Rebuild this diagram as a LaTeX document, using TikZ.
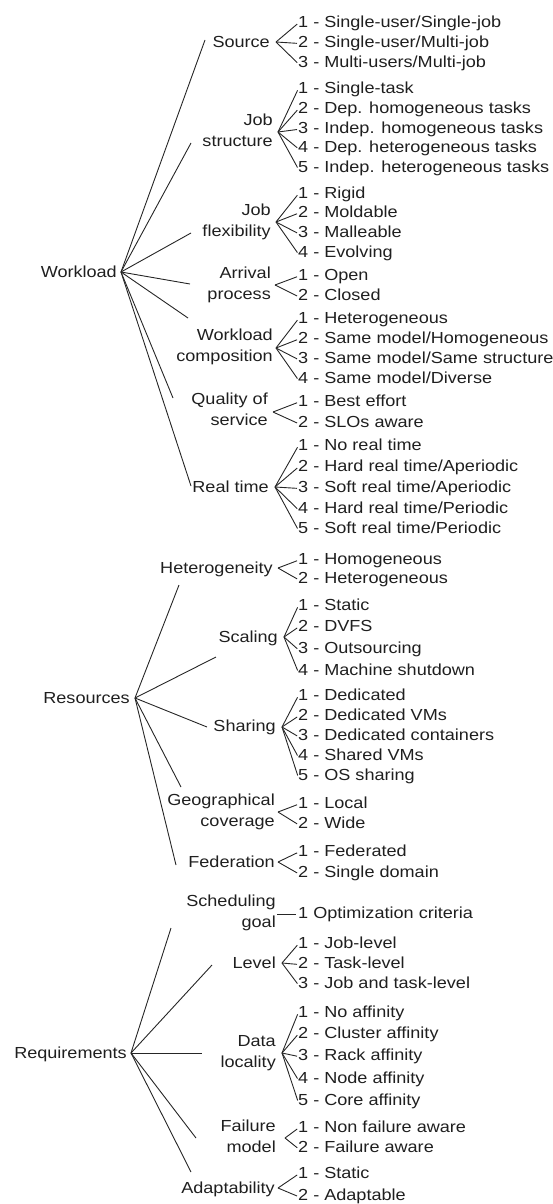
\documentclass[tikz,border=0pt]{standalone}
\usepackage{fontspec}
\setmainfont{Liberation Sans}[FakeStretch=1.13]
\begin{document}
\begin{tikzpicture}[x=1pt,y=-1pt,
  txt/.style={inner sep=0pt, text=black!88, font=\fontsize{16}{20.5}\selectfont,
    execute at begin node=\strut, execute at end node=\strut, yshift=-1.4pt},
  leaf/.style={txt, anchor=west},
  cat/.style={txt, anchor=east, align=right},
  root/.style={txt, anchor=east},
  link/.style={line width=0.9pt, black!85},
  fan/.style={link, shorten >=1pt},
]
\useasboundingbox (0,0) rectangle (553,1204);

% ---------------- roots ----------------
\node[root] (workload) at (117,272) {Workload};
\coordinate (wA) at (121,272);
\node[root] (resources) at (130,698) {Resources};
\coordinate (rA) at (135,698);
\node[root] (requirements) at (127,1053) {Requirements};
\coordinate (qA) at (131,1053);

% ---------------- Workload ----------------
\node[cat] (src) at (270,42) {Source};
\coordinate (srcA) at (276,42); \coordinate (srcE) at (205,40);
\node[leaf] (src1) at (298,22) {1 - Single-user/Single-job};
\node[leaf] (src2) at (298,42) {2 - Single-user/Multi-job};
\node[leaf] (src3) at (298,62) {3 - Multi-users/Multi-job};

\node[cat] (jst) at (273,132) {Job\\structure};
\coordinate (jstA) at (278,132); \coordinate (jstE) at (191,143);
\node[leaf] (jst1) at (298,88) {1 - Single-task};
\node[leaf] (jst2) at (298,108) {2 - Dep. homogeneous tasks};
\node[leaf] (jst3) at (298,128) {3 - Indep. homogeneous tasks};
\node[leaf] (jst4) at (298,147) {4 - Dep. heterogeneous tasks};
\node[leaf] (jst5) at (298,167) {5 - Indep. heterogeneous tasks};

\node[cat] (jfl) at (271,222) {Job\\flexibility};
\coordinate (jflA) at (276,222); \coordinate (jflE) at (191,233);
\node[leaf] (jfl1) at (298,193) {1 - Rigid};
\node[leaf] (jfl2) at (298,212) {2 - Moldable};
\node[leaf] (jfl3) at (298,232) {3 - Malleable};
\node[leaf] (jfl4) at (298,252) {4 - Evolving};

\node[cat] (arr) at (271,285) {Arrival\\process};
\coordinate (arrA) at (275,285); \coordinate (arrE) at (190,284);
\node[leaf] (arr1) at (298,275) {1 - Open};
\node[leaf] (arr2) at (298,295) {2 - Closed};

\node[cat] (wco) at (273,347) {Workload\\composition};
\coordinate (wcoA) at (276,348); \coordinate (wcoE) at (188,318);
\node[leaf] (wco1) at (298,318) {1 - Heterogeneous};
\node[leaf] (wco2) at (298,338) {2 - Same model/Homogeneous};
\node[leaf] (wco3) at (298,358) {3 - Same model/Same structure};
\node[leaf] (wco4) at (298,378) {4 - Same model/Diverse};

\node[cat] (qos) at (268,411) {Quality of\\service};
\coordinate (qosA) at (273,412); \coordinate (qosE) at (173,398);
\node[leaf] (qos1) at (298,401) {1 - Best effort};
\node[leaf] (qos2) at (298,422) {2 - SLOs aware};

\node[cat] (rti) at (269,487) {Real time};
\coordinate (rtiA) at (275,487); \coordinate (rtiE) at (191,486);
\node[leaf] (rti1) at (298,445) {1 - No real time};
\node[leaf] (rti2) at (298,466) {2 - Hard real time/Aperiodic};
\node[leaf] (rti3) at (298,487) {3 - Soft real time/Aperiodic};
\node[leaf] (rti4) at (298,508) {4 - Hard real time/Periodic};
\node[leaf] (rti5) at (298,528) {5 - Soft real time/Periodic};

% ---------------- Resources ----------------
\node[cat] (het) at (273,568) {Heterogeneity};
\coordinate (hetA) at (278,568); \coordinate (hetE) at (179,585);
\node[leaf] (het1) at (298,559) {1 - Homogeneous};
\node[leaf] (het2) at (298,578) {2 - Heterogeneous};

\node[cat] (sca) at (278,637) {Scaling};
\coordinate (scaA) at (284,637); \coordinate (scaE) at (216,657);
\node[leaf] (sca1) at (298,605) {1 - Static};
\node[leaf] (sca2) at (298,626) {2 - DVFS};
\node[leaf] (sca3) at (298,648) {3 - Outsourcing};
\node[leaf] (sca4) at (298,670) {4 - Machine shutdown};

\node[cat] (sha) at (276,726) {Sharing};
\coordinate (shaA) at (282,727); \coordinate (shaE) at (207,727);
\node[leaf] (sha1) at (298,695) {1 - Dedicated};
\node[leaf] (sha2) at (298,715) {2 - Dedicated VMs};
\node[leaf] (sha3) at (298,735) {3 - Dedicated containers};
\node[leaf] (sha4) at (298,755) {4 - Shared VMs};
\node[leaf] (sha5) at (298,775) {5 - OS sharing};

\node[cat] (geo) at (275,812) {Geographical\\coverage};
\coordinate (geoA) at (278,812); \coordinate (geoE) at (181,787);
\node[leaf] (geo1) at (298,803) {1 - Local};
\node[leaf] (geo2) at (298,823) {2 - Wide};

\node[cat] (fed) at (275,862) {Federation};
\coordinate (fedA) at (278,862); \coordinate (fedE) at (176,865);
\node[leaf] (fed1) at (298,851) {1 - Federated};
\node[leaf] (fed2) at (298,872) {2 - Single domain};

% ---------------- Requirements ----------------
\node[cat] (sgo) at (276,913) {Scheduling\\goal};
\coordinate (sgoE) at (171,928);
\node[leaf] (sgo1) at (298,913) {1 Optimization criteria};

\node[cat] (lev) at (276,963) {Level};
\coordinate (levA) at (282,963); \coordinate (levE) at (212,965);
\node[leaf] (lev1) at (298,943) {1 - Job-level};
\node[leaf] (lev2) at (298,963) {2 - Task-level};
\node[leaf] (lev3) at (298,983) {3 - Job and task-level};

\node[cat] (dlo) at (276,1053) {Data\\locality};
\coordinate (dloA) at (282,1053); \coordinate (dloE) at (202,1053);
\node[leaf] (dlo1) at (298,1012) {1 - No affinity};
\node[leaf] (dlo2) at (298,1033) {2 - Cluster affinity};
\node[leaf] (dlo3) at (298,1055) {3 - Rack affinity};
\node[leaf] (dlo4) at (298,1078) {4 - Node affinity};
\node[leaf] (dlo5) at (298,1100) {5 - Core affinity};

\node[cat] (fai) at (276,1138) {Failure\\model};
\coordinate (faiA) at (285,1138); \coordinate (faiE) at (196,1138);
\node[leaf] (fai1) at (298,1127) {1 - Non failure aware};
\node[leaf] (fai2) at (298,1147) {2 - Failure aware};

\node[cat] (ada) at (275,1188) {Adaptability};
\coordinate (adaA) at (278,1188); \coordinate (adaE) at (191,1172);
\node[leaf] (ada1) at (298,1173) {1 - Static};
\node[leaf] (ada2) at (298,1195) {2 - Adaptable};

% ---------------- root branches ----------------
\foreach \e in {srcE,jstE,jflE,arrE,wcoE,qosE,rtiE} \draw[link] (wA) -- (\e);
\foreach \e in {hetE,scaE,shaE,geoE,fedE} \draw[link] (rA) -- (\e);
\foreach \e in {sgoE,levE,dloE,faiE,adaE} \draw[link] (qA) -- (\e);

% ---------------- value fans ----------------
\foreach \c/\n in {src/3,jst/5,jfl/4,arr/2,wco/4,qos/2,rti/5,het/2,sca/4,sha/5,geo/2,fed/2,lev/3,dlo/5,fai/2,ada/2}
  \foreach \i in {1,...,\n} \draw[fan] (\c A) -- (\c\i.west);
\draw[link, shorten <=1pt, shorten >=2pt] (sgo.east) -- (sgo1.west);
\end{tikzpicture}
\end{document}
